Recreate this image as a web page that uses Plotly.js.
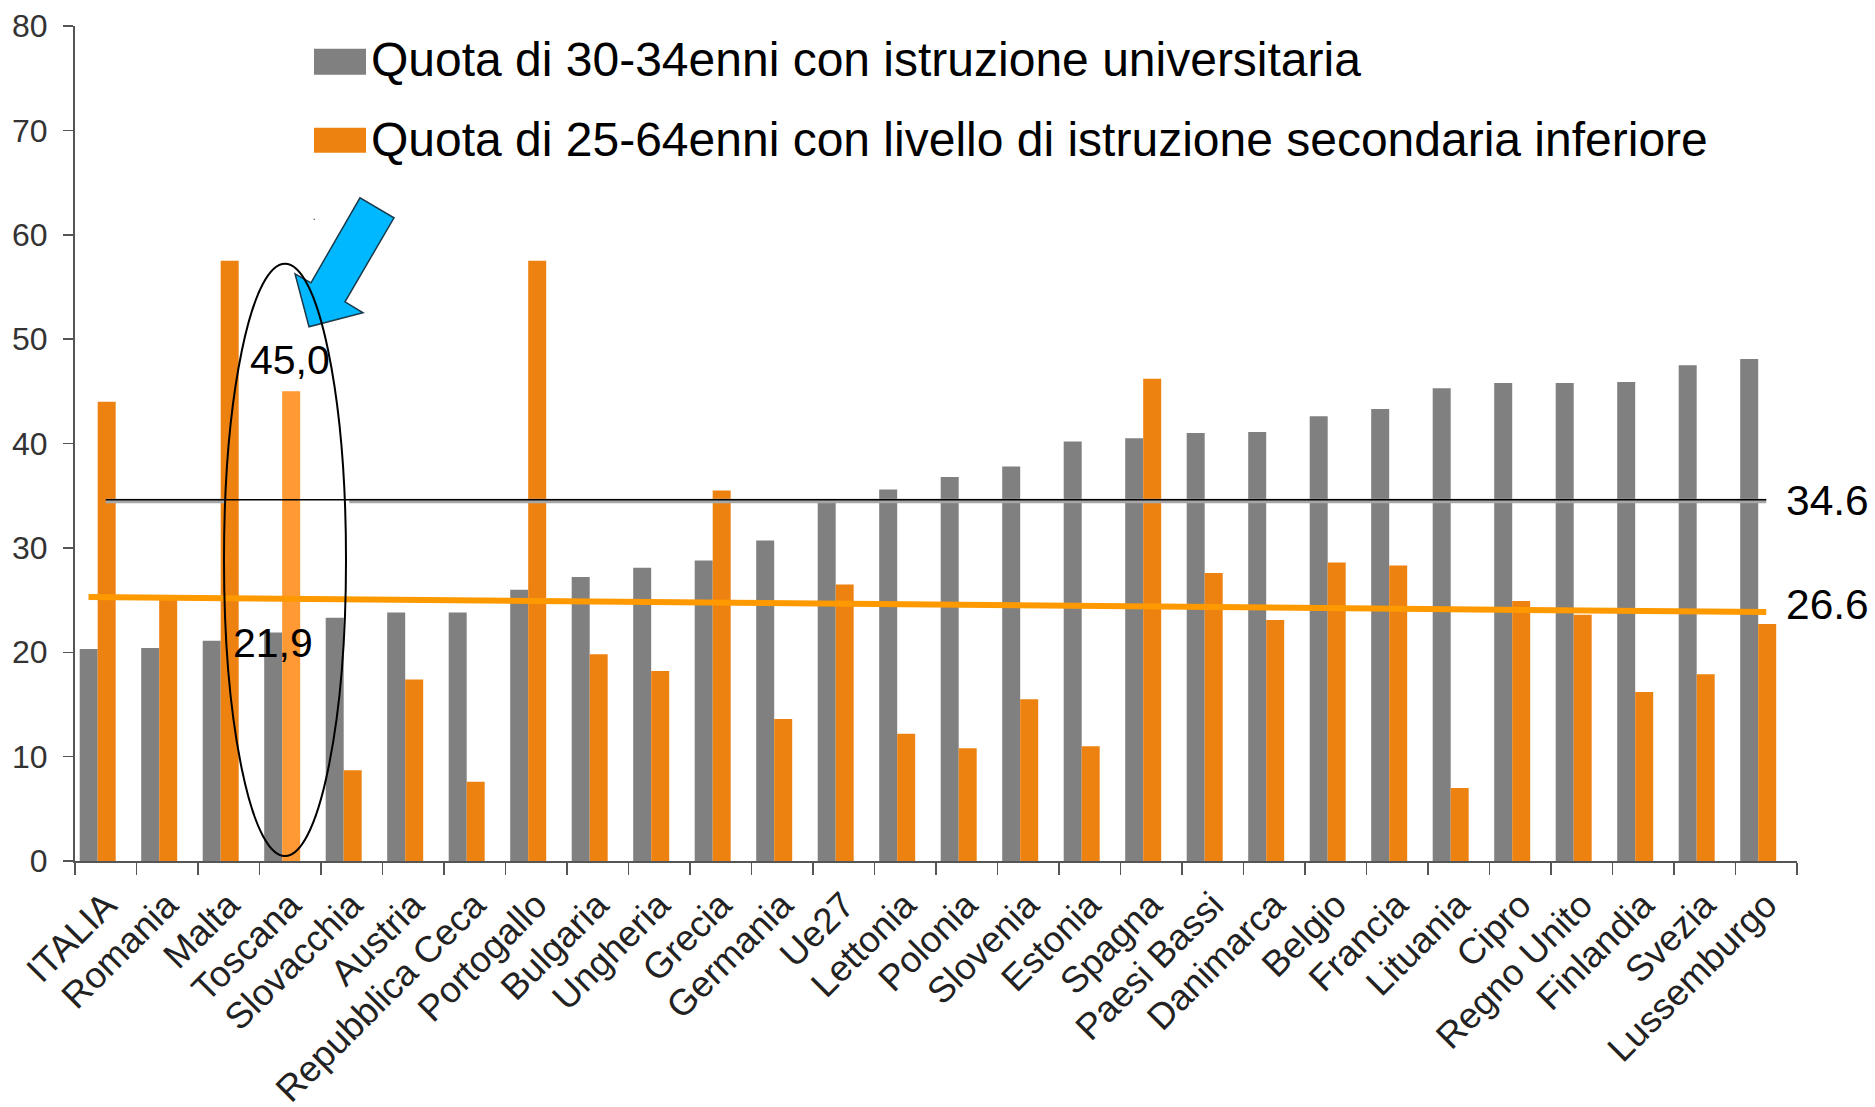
<!DOCTYPE html>
<html><head><meta charset="utf-8">
<script src="https://cdn.plot.ly/plotly-3.0.1.min.js"></script>
<style>html,body{margin:0;padding:0;background:#fff}</style></head>
<body><div id="chart" style="width:1875px;height:1107px"></div>
<script>
const categories = ["ITALIA","Romania","Malta","Toscana","Slovacchia","Austria","Repubblica Ceca","Portogallo","Bulgaria","Ungheria","Grecia","Germania","Ue27","Lettonia","Polonia","Slovenia","Estonia","Spagna","Paesi Bassi","Danimarca","Belgio","Francia","Lituania","Cipro","Regno Unito","Finlandia","Svezia","Lussemburgo"];
const university = [20.3,20.4,21.1,21.9,23.3,23.8,23.8,26.0,27.2,28.1,28.8,30.7,34.6,35.6,36.8,37.8,40.2,40.5,41.0,41.1,42.6,43.3,45.3,45.8,45.8,45.9,47.5,48.1];
const lowerSecondary = [44.0,25.2,57.5,45.0,8.7,17.4,7.6,57.5,19.8,18.2,35.5,13.6,26.5,12.2,10.8,15.5,11.0,46.2,27.6,23.1,28.6,28.3,7.0,24.9,23.6,16.2,17.9,22.7];
const seriesNames = ["Quota di 30-34enni con istruzione universitaria","Quota di 25-64enni con livello di istruzione secondaria inferiore"];
const blackLineX = [0,27], blackLineY = [34.6,34.6];
const shadowLineX = [0,1.93,null,3.96,27], shadowLineY = [34.5,34.5,null,34.5,34.5];
const orangeLineX = [-0.28,27], orangeLineY = [25.3,23.85];
const GREY="#808080", ORANGE="#EE8210", HILITE="#FF9933";
const W=1875,H=1107,L=75,R=1797,T=26.3,B=861;
const fx=p=>(p-L)/(R-L), fy=p=>(B-p)/(B-T);
const FONT='"Liberation Sans", Arial, sans-serif';
const poly=pts=>'M'+pts.map(p=>fx(p[0]).toFixed(5)+','+fy(p[1]).toFixed(5)).join('L')+'Z';
const pshape=o=>Object.assign({xref:'paper',yref:'paper',layer:'above'},o);
const text=(t,x,y,size,anchor)=>({text:t,xref:'paper',yref:'paper',x:fx(x),y:fy(y),xanchor:anchor||'center',yanchor:'middle',showarrow:false,font:{family:FONT,size:size,color:'#000'}});

const traces=[
 {type:'bar',name:seriesNames[0],x:categories,y:university,width:0.2927,offset:-0.4236,marker:{color:GREY},showlegend:false},
 {type:'bar',name:seriesNames[1],x:categories,y:lowerSecondary,width:0.2927,offset:-0.131,marker:{color:categories.map(c=>c==="Toscana"?HILITE:ORANGE)},showlegend:false},
 {type:'scatter',mode:'lines',x:shadowLineX,y:shadowLineY,xaxis:'x2',yaxis:'y',line:{color:'#A6A6A6',width:4.5},connectgaps:false,showlegend:false},
 {type:'scatter',mode:'lines',x:blackLineX,y:blackLineY,xaxis:'x2',yaxis:'y',line:{color:'#000',width:1.5},showlegend:false},
 {type:'scatter',mode:'lines',x:orangeLineX,y:orangeLineY,xaxis:'x2',yaxis:'y',line:{color:'#FF9900',width:6},showlegend:false}
];
const layout={
 width:W,height:H,paper_bgcolor:'#fff',plot_bgcolor:'#fff',hovermode:false,
 margin:{l:L,r:W-R,t:T,b:H-B,pad:0},barmode:'overlay',showlegend:false,
 font:{family:FONT,color:'#222'},
 xaxis:{type:'category',categoryorder:'array',categoryarray:categories,range:[-0.5,27.5],tickson:'boundaries',ticks:'outside',ticklen:12,tickwidth:1.5,tickcolor:'#555',showline:true,linecolor:'#555',linewidth:2,showgrid:false,tickangle:-45,ticklabelstandoff:6,tickfont:{family:FONT,size:36.5,color:'#222'},automargin:false},
 xaxis2:{overlaying:'x',anchor:'y',range:[-0.5,27.5],visible:false,showgrid:false,zeroline:false},
 yaxis:{range:[0,80],dtick:10,ticks:'outside',ticklen:10,tickwidth:1.5,tickcolor:'#555',showline:true,linecolor:'#555',linewidth:2,showgrid:false,zeroline:false,ticklabelstandoff:9,tickfont:{family:FONT,size:32,color:'#333'},automargin:false},
 shapes:[
  pshape({type:'rect',x0:fx(314),x1:fx(366),y0:fy(75),y1:fy(49),fillcolor:GREY,line:{width:0}}),
  pshape({type:'rect',x0:fx(314),x1:fx(366),y0:fy(153),y1:fy(128),fillcolor:ORANGE,line:{width:0}}),
  pshape({type:'path',path:poly([[295,274],[311,283],[360,198],[394,218],[345,302],[363,313],[309,327]]),fillcolor:'#00B8FF',line:{color:'#1a3a4a',width:1.5}}),
  pshape({type:'circle',x0:fx(224),x1:fx(346),y0:fy(856),y1:fy(264),fillcolor:'rgba(0,0,0,0)',line:{color:'#000',width:2}}),
  pshape({type:'rect',x0:fx(313.5),x1:fx(315),y0:fy(220),y1:fy(219),fillcolor:'#444',line:{width:0}})
 ],
 annotations:[
  text(seriesNames[0],369,60,48,'left'),
  text(seriesNames[1],369,140,48,'left'),
  text('45,0',290,360,41),
  text('21,9',273,643,41),
  text('34.6',1827,501,42.5),
  text('26.6',1827,605,42.5)
 ]
};
Plotly.newPlot('chart',traces,layout,{displayModeBar:false,staticPlot:true});
</script></body></html>
